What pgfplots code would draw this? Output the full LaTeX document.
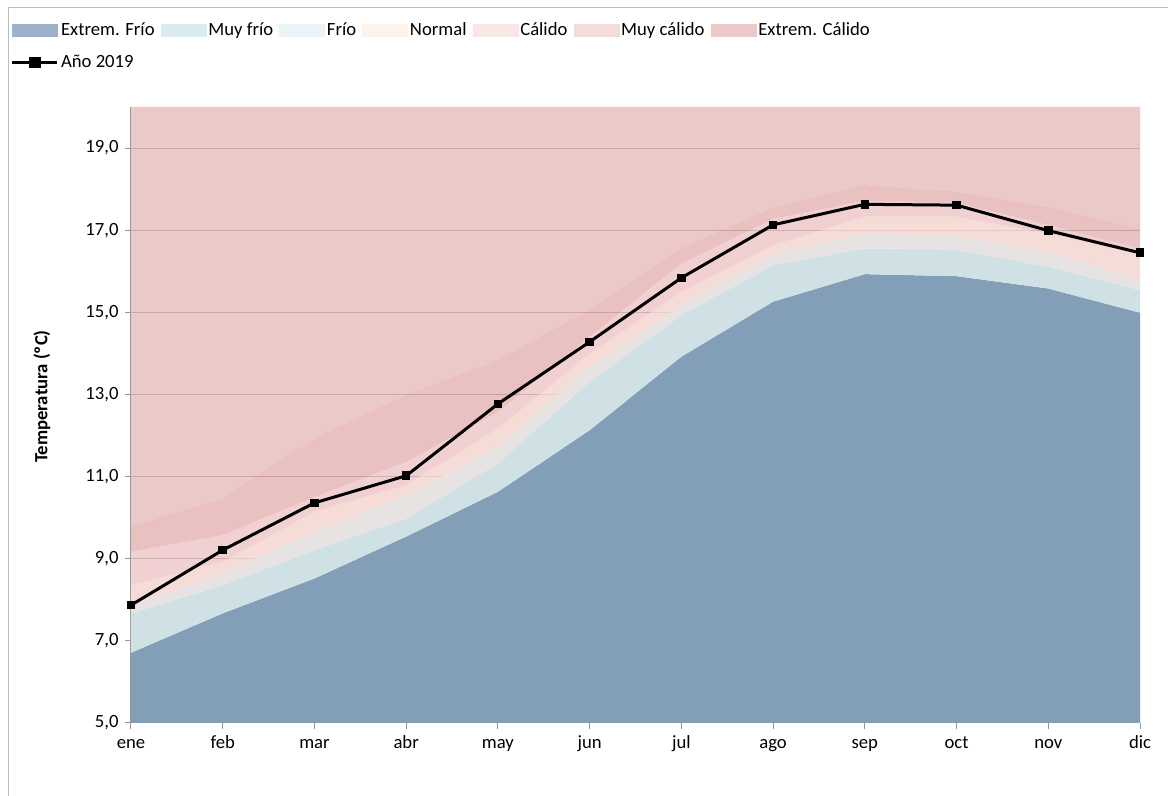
\documentclass[border=0pt]{standalone}
\usepackage{fontspec}
\setmainfont{Carlito}
\usepackage{pgfplots}
\pgfplotsset{compat=1.18}
\definecolor{cBlue}{RGB}{131,159,184}
\definecolor{cLBlue}{RGB}{208,225,230}
\definecolor{cGray}{RGB}{232,227,227}
\definecolor{cPeach}{RGB}{243,214,208}
\definecolor{cCal}{RGB}{234,188,188}
\definecolor{cMCal}{RGB}{224,166,166}
\definecolor{cECal}{RGB}{228,178,178}
\definecolor{lBlue}{RGB}{158,177,202}
\definecolor{lLBlue}{RGB}{217,235,240}
\definecolor{lGray}{RGB}{235,245,247}
\definecolor{lPeach}{RGB}{254,243,235}
\definecolor{lCal}{RGB}{247,231,231}
\definecolor{lMCal}{RGB}{243,220,220}
\definecolor{lECal}{RGB}{237,200,200}
\definecolor{gridgray}{RGB}{150,150,150}
\definecolor{framegray}{RGB}{190,190,190}
\begin{document}
\fontsize{14}{16.8}\selectfont
\begin{tikzpicture}
\useasboundingbox (-98.25pt,-54.75pt) rectangle (777.75pt,542.25pt);
\draw[framegray, line width=0.75pt] (-91.5pt,-60pt) -- (-91.5pt,536.25pt) -- (790pt,536.25pt);
\begin{axis}[
  width=756.75pt, height=462pt, scale only axis,
  xmin=0, xmax=11, ymin=5, ymax=20,
  clip=false,
  xtick={0,...,11},
  xticklabels={ene,feb,mar,abr,may,jun,jul,ago,sep,oct,nov,dic},
  xticklabel style={text height=9.5pt, text depth=3pt, yshift=-0.5pt},
  ytick={5,7,...,19},
  ymajorgrids,
  grid style={color=gridgray, line width=0.75pt},
  axis x line*=bottom, axis y line*=left,
  axis line style={color=gridgray, line width=0.75pt},
  tick align=outside, major tick length=4.5pt,
  tick style={color=gridgray, line width=0.75pt},
  /pgf/number format/assume math mode=true,
  yticklabel style={/pgf/number format/.cd, fixed, fixed zerofill, precision=1, use comma},
  ylabel={\bfseries Temperatura (ºC)},
  every axis y label/.style={at={(axis description cs:-0.0882,0.53)}, rotate=90, anchor=center},
  legend columns=7,
  legend cell align=left,
  legend style={at={(axis description cs:-0.1232,1.145)}, anchor=north west, draw=none, fill=none,
    nodes={inner sep=1.6pt},
    /tikz/every even column/.append style={column sep=3pt}, row sep=9pt},
]
\addlegendimage{legend image code/.code={\fill[lBlue] (0pt,-4.5pt) rectangle (33.75pt,4.5pt);}}
\addlegendimage{legend image code/.code={\fill[lLBlue] (0pt,-4.5pt) rectangle (33.75pt,4.5pt);}}
\addlegendimage{legend image code/.code={\fill[lGray] (0pt,-4.5pt) rectangle (33.75pt,4.5pt);}}
\addlegendimage{legend image code/.code={\fill[lPeach] (0pt,-4.5pt) rectangle (33.75pt,4.5pt);}}
\addlegendimage{legend image code/.code={\fill[lCal] (0pt,-4.5pt) rectangle (33.75pt,4.5pt);}}
\addlegendimage{legend image code/.code={\fill[lMCal] (0pt,-4.5pt) rectangle (33.75pt,4.5pt);}}
\addlegendimage{legend image code/.code={\fill[lECal] (0pt,-4.5pt) rectangle (33.75pt,4.5pt);}}
\addlegendimage{legend image code/.code={\draw[black, line width=2.25pt] (0pt,0pt) -- (33.75pt,0pt); \fill[black] (12.875pt,-4pt) rectangle (20.875pt,4pt);}}
% Extrem. Frio
\addplot[fill=cBlue, draw=none, forget plot] coordinates {(0,5) (11,5) (11,14.99) (10,15.58) (9,15.88) (8,15.93) (7,15.26) (6,13.92) (5,12.13) (4,10.63) (3,9.54) (2,8.52) (1,7.67) (0,6.71)} -- cycle;
% Muy frio
\addplot[fill=cLBlue, draw=none, forget plot] coordinates {(0,6.71) (1,7.67) (2,8.52) (3,9.54) (4,10.63) (5,12.13) (6,13.92) (7,15.26) (8,15.93) (9,15.88) (10,15.58) (11,14.99) (11,15.54) (10,16.11) (9,16.53) (8,16.56) (7,16.15) (6,14.93) (5,13.31) (4,11.32) (3,9.98) (2,9.21) (1,8.36) (0,7.67)} -- cycle;
% Frio
\addplot[fill=cGray, draw=none, forget plot] coordinates {(0,7.67) (1,8.36) (2,9.21) (3,9.98) (4,11.32) (5,13.31) (6,14.93) (7,16.15) (8,16.56) (9,16.53) (10,16.11) (11,15.54) (11,15.79) (10,16.48) (9,16.86) (8,16.92) (7,16.44) (6,15.18) (5,13.68) (4,11.73) (3,10.55) (2,9.66) (1,8.65) (0,7.85)} -- cycle;
% Normal
\addplot[fill=cPeach, fill opacity=0.85, draw=none, forget plot] coordinates {(0,7.85) (1,8.65) (2,9.66) (3,10.55) (4,11.73) (5,13.68) (6,15.18) (7,16.44) (8,16.92) (9,16.86) (10,16.48) (11,15.79) (11,16.40) (10,16.92) (9,17.33) (8,17.33) (7,16.64) (6,15.50) (5,14.00) (4,12.18) (3,10.80) (2,10.15) (1,8.93) (0,8.36)} -- cycle;
% Calido
\addplot[fill=cCal, fill opacity=0.7, draw=none, forget plot] coordinates {(0,8.36) (1,8.93) (2,10.15) (3,10.80) (4,12.18) (5,14.00) (6,15.50) (7,16.64) (8,17.33) (9,17.33) (10,16.92) (11,16.40) (11,16.55) (10,17.13) (9,17.67) (8,17.72) (7,17.28) (6,16.19) (5,14.41) (4,12.58) (3,11.36) (2,10.51) (1,9.58) (0,9.17)} -- cycle;
% Muy calido
\addplot[fill=cMCal, fill opacity=0.7, draw=none, forget plot] coordinates {(0,9.17) (1,9.58) (2,10.51) (3,11.36) (4,12.58) (5,14.41) (6,16.19) (7,17.28) (8,17.72) (9,17.67) (10,17.13) (11,16.55) (11,17.04) (10,17.57) (9,17.94) (8,18.10) (7,17.55) (6,16.56) (5,15.06) (4,13.84) (3,12.99) (2,11.93) (1,10.47) (0,9.78)} -- cycle;
% Extrem. Calido
\addplot[fill=cECal, fill opacity=0.7, draw=none, forget plot] coordinates {(0,9.78) (1,10.47) (2,11.93) (3,12.99) (4,13.84) (5,15.06) (6,16.56) (7,17.55) (8,18.10) (9,17.94) (10,17.57) (11,17.04) (11,20) (0,20)} -- cycle;
% Ano 2019
\addplot[black, line width=2.25pt, mark=square*, mark size=2.1pt, forget plot] coordinates {(0,7.87) (1,9.21) (2,10.36) (3,11.02) (4,12.77) (5,14.28) (6,15.84) (7,17.13) (8,17.63) (9,17.61) (10,16.99) (11,16.45)};
\legend{Extrem. Frío, Muy frío, Frío, Normal, Cálido, Muy cálido, Extrem. Cálido, Año 2019}
\end{axis}
\end{tikzpicture}
\end{document}
